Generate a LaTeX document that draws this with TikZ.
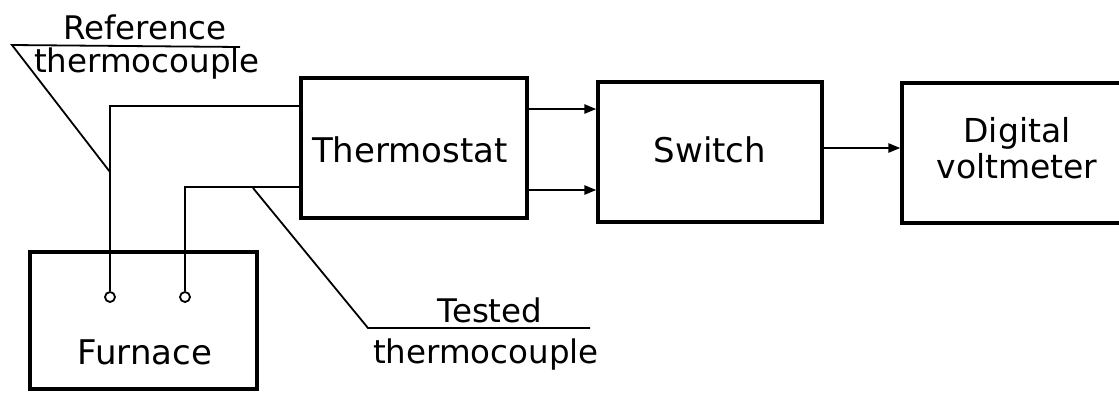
\documentclass[tikz,border=0pt]{standalone}
\usepackage{fontspec}
\setmainfont{DejaVu Sans}
\usetikzlibrary{arrows.meta}
\begin{document}
\begin{tikzpicture}[x=1pt,y=-1pt,
  blk/.style={draw, line width=3.2pt, rectangle, inner sep=0pt},
  wire/.style={line width=2.4pt},
  lead/.style={line width=1.8pt},
  arr/.style={line width=2.4pt, -{Triangle[length=12pt,width=9pt]}},
  term/.style={draw, circle, fill=white, line width=1.8pt, minimum size=10pt, inner sep=0pt},
  lbl/.style={font=\fontsize{34}{38}\selectfont, inner sep=0pt, align=center},
  sml/.style={font=\fontsize{32.5}{36}\selectfont, inner sep=0pt, align=center}]
\useasboundingbox (0,0) rectangle (1119,392);
\clip (0,0) rectangle (1119,392);
% blocks
\node[blk, minimum width=226pt, minimum height=140pt] (thermo) at (414,148) {};
\node[lbl] (thermot) at (410,150) {Thermostat};
\node[blk, minimum width=224pt, minimum height=140pt] (switch) at (710,152) {};
\node[lbl] (switcht) at (710,150) {Switch};
\node[blk, minimum width=230pt, minimum height=140pt] (dvm) at (1017,153) {};
\node[lbl, font=\fontsize{33}{36}\selectfont] (dvmt) at (1017,148) {Digital\\voltmeter};
\node[blk, minimum width=227pt, minimum height=137pt] (fur) at (143.5,320.5) {};
\node[lbl] (furt) at (145,352) {Furnace};
% terminals
\node[term] (t1) at (110,297) {};
\node[term] (t2) at (185,297) {};
% wires
\coordinate (r1) at (301,106);
\coordinate (r2) at (301,187);
\draw[wire] (t1.north) |- (r1);
\draw[wire] (t2.north) |- (r2);
% arrows
\coordinate (a1) at (0,109);
\coordinate (a2) at (0,190);
\coordinate (a3) at (0,148);
\draw[arr] (thermo.east |- a1) -- (switch.west |- a1);
\draw[arr] (thermo.east |- a2) -- (switch.west |- a2);
\draw[arr] (switch.east |- a3) -- (dvm.west |- a3);
% reference thermocouple label
\coordinate (l1) at (110,172);
\coordinate (l2) at (12,45);
\coordinate (l3) at (240,47);
\draw[lead] (l1) -- (l2) -- (l3);
\node[sml] (reft1) at (145,27) {Reference};
\node[sml] (reft2) at (147,64) {thermocouple};
% tested thermocouple label
\coordinate (m1) at (253,188);
\coordinate (m2) at (368,328);
\coordinate (m3) at (590,328);
\draw[lead] (m1) -- (m2) -- (m3);
\node[sml] (test1) at (490,310) {Tested};
\node[sml] (test2) at (486,355) {thermocouple};
\end{tikzpicture}
\end{document}
